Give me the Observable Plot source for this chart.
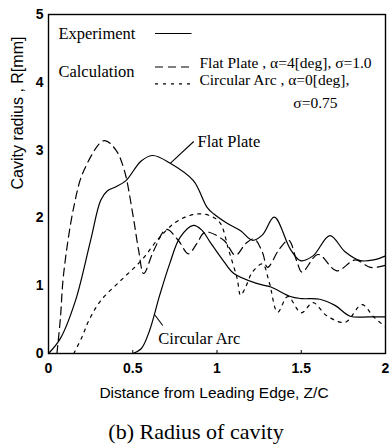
<!DOCTYPE html>
<html>
<head>
<meta charset="utf-8">
<script src="https://cdn.jsdelivr.net/npm/d3@7"></script>
<script src="https://cdn.jsdelivr.net/npm/@observablehq/plot@0.6"></script>
<style>
  html, body { margin: 0; padding: 0; background: #fff; }
  #chart { width: 390px; height: 445px; }
</style>
</head>
<body>
<div id="chart"></div>
<script>
// ---- Data ----
const expFlatX = [0, 0.07, 0.16, 0.25, 0.31, 0.35, 0.40, 0.46, 0.55, 0.62, 0.72, 0.86, 0.94, 0.98, 1.06, 1.14, 1.21, 1.27, 1.34, 1.435, 1.495, 1.57, 1.67, 1.76, 1.85, 1.93, 2.0];
const expFlatY = [0, 0.22, 0.78, 1.67, 2.26, 2.40, 2.46, 2.55, 2.84, 2.92, 2.81, 2.55, 2.16, 2.06, 1.92, 1.81, 1.67, 1.75, 2.01, 1.54, 1.37, 1.44, 1.74, 1.50, 1.37, 1.38, 1.44];

const expArcX = [0.50, 0.55, 0.60, 0.66, 0.72, 0.78, 0.86, 0.91, 0.96, 1.04, 1.10, 1.24, 1.32, 1.435, 1.50, 1.61, 1.70, 1.79, 1.90, 2.0];
const expArcY = [0, 0.07, 0.34, 0.86, 1.33, 1.71, 1.89, 1.82, 1.64, 1.36, 1.18, 1.03, 0.98, 0.84, 0.81, 0.80, 0.71, 0.55, 0.54, 0.54];

const calcFlatX = [0.05, 0.07, 0.09, 0.15, 0.21, 0.33, 0.40, 0.45, 0.50, 0.535, 0.565, 0.625, 0.70, 0.77, 0.83, 0.88, 0.93, 1.04, 1.11, 1.17, 1.22, 1.27, 1.30, 1.37, 1.425, 1.475, 1.505, 1.60, 1.71, 1.82, 1.91, 2.0];
const calcFlatY = [0, 0.5, 1.18, 2.16, 2.70, 3.14, 3.0, 2.70, 2.06, 1.52, 1.18, 1.52, 1.83, 1.67, 1.47, 1.62, 1.79, 1.67, 1.45, 1.62, 1.69, 1.49, 1.27, 1.54, 1.67, 1.35, 1.20, 1.46, 1.22, 1.38, 1.27, 1.30];

const calcArcX = [0.15, 0.20, 0.24, 0.31, 0.43, 0.55, 0.645, 0.74, 0.82, 0.90, 0.97, 1.02, 1.07, 1.12, 1.14, 1.17, 1.21, 1.27, 1.31, 1.36, 1.42, 1.50, 1.57, 1.65, 1.76, 1.86, 1.93, 2.0];
const calcArcY = [0, 0.25, 0.49, 0.78, 1.08, 1.37, 1.67, 1.91, 2.02, 2.06, 2.02, 1.92, 1.52, 1.10, 0.86, 0.98, 1.20, 1.32, 1.05, 0.61, 0.84, 0.60, 0.75, 0.56, 0.46, 0.72, 0.54, 0.39];

const xTicks = [0, 0.5, 1, 1.5, 2];
const xTickLabels = ["0", "0.5", "1", "1.5", "2"];
const yTicks = [0, 1, 2, 3, 4, 5];
const yTickLabels = ["0", "1", "2", "3", "4", "5"];

const xTitle = "Distance from Leading Edge, Z/C";
const yTitle = "Cavity radius , R[mm]";
const caption = "(b) Radius of cavity";

const legendHeads = ["Experiment", "Calculation"];
const legendItems = ["Flat Plate , α=4[deg], σ=1.0", "Circular Arc , α=0[deg],", "σ=0.75"];
const curveLabels = ["Flat Plate", "Circular Arc"];

// ---- Layout (annotation placement, in data units) ----
const headPos = [{x: 0.059, y: 4.646}, {x: 0.059, y: 4.071}];
const itemPos = [{x: 0.896, y: 4.204}, {x: 0.896, y: 3.953}, {x: 1.453, y: 3.628}];
const legendLines = [
  {x1: 0.635, x2: 0.852, y: 4.72, dash: null},
  {x1: 0.635, x2: 0.860, y: 4.226, dash: "8,5"},
  {x1: 0.635, x2: 0.860, y: 3.978, dash: "3,5"}
];
const labelPos = [{x: 0.884, y: 3.053}, {x: 0.652, y: 0.147}];
const leaders = [
  {x1: 0.724, y1: 2.807, x2: 0.862, y2: 3.127},
  {x1: 0.629, y1: 0.575, x2: 0.678, y2: 0.413}
];

const toRows = (xs, ys) => xs.map((x, i) => ({x, y: ys[i]}));
const serif = "'Liberation Serif', 'Times New Roman', serif";
const sans = "'Liberation Sans', Arial, sans-serif";

const chart = Plot.plot({
  width: 390,
  height: 445,
  marginLeft: 48,
  marginRight: 5,
  marginTop: 14,
  marginBottom: 92,
  x: {domain: [0, 2]},
  y: {domain: [0, 5]},
  style: {fontFamily: sans, background: "#fff", color: "#000"},
  marks: [
    Plot.axisX({ticks: xTicks, tickSize: 0, tickPadding: 10, fontSize: 14, fontWeight: "bold",
      tickFormat: d => xTickLabels[xTicks.indexOf(d)], label: null}),
    Plot.axisY({ticks: yTicks, tickSize: 0, tickPadding: 5, fontSize: 14, fontWeight: "bold",
      tickFormat: d => yTickLabels[yTicks.indexOf(d)], label: null}),
    Plot.tickX(xTicks.slice(1, -1), {x: d => d, insetTop: 336, stroke: "#000", strokeWidth: 1}),
    Plot.frame({stroke: "#000", strokeWidth: 1.4}),

    Plot.line(toRows(expFlatX, expFlatY), {x: "x", y: "y", curve: "catmull-rom", stroke: "#000", strokeWidth: 1.2}),
    Plot.line(toRows(expArcX, expArcY), {x: "x", y: "y", curve: "catmull-rom", stroke: "#000", strokeWidth: 1.2}),
    Plot.line(toRows(calcFlatX, calcFlatY), {x: "x", y: "y", curve: "catmull-rom", stroke: "#000", strokeWidth: 1.2, strokeDasharray: "8,5"}),
    Plot.line(toRows(calcArcX, calcArcY), {x: "x", y: "y", curve: "catmull-rom", stroke: "#000", strokeWidth: 1.2, strokeDasharray: "3,5"}),

    // legend
    ...legendLines.map(l => Plot.ruleY([l.y], {x1: l.x1, x2: l.x2, stroke: "#000", strokeWidth: 1.2, strokeDasharray: l.dash})),
    Plot.text(legendHeads, {x: (d, i) => headPos[i].x, y: (d, i) => headPos[i].y, text: d => d,
      textAnchor: "start", lineAnchor: "bottom", fontFamily: serif, fontSize: 16.5, fill: "#000"}),
    Plot.text(legendItems, {x: (d, i) => itemPos[i].x, y: (d, i) => itemPos[i].y, text: d => d,
      textAnchor: "start", lineAnchor: "bottom", fontFamily: serif, fontSize: 15.5, fill: "#000"}),

    // curve annotations
    Plot.link(leaders, {x1: "x1", y1: "y1", x2: "x2", y2: "y2", stroke: "#000", strokeWidth: 1.1}),
    Plot.text(curveLabels, {x: (d, i) => labelPos[i].x, y: (d, i) => labelPos[i].y, text: d => d,
      textAnchor: "start", lineAnchor: "bottom", fontFamily: serif, fontSize: 16.5, fill: "#000"}),

    // axis titles and caption
    Plot.text([xTitle], {frameAnchor: "bottom", dx: -3, dy: 44, text: d => d, lineAnchor: "bottom",
      fontFamily: sans, fontSize: 15.5, fill: "#000"}),
    Plot.text([yTitle], {frameAnchor: "left", dx: -31, dy: 5.5, rotate: -90, text: d => d, lineAnchor: "middle",
      fontFamily: sans, fontSize: 16, fill: "#000"}),
    Plot.text([caption], {frameAnchor: "bottom", dx: -21, dy: 85, text: d => d, lineAnchor: "bottom",
      fontFamily: serif, fontSize: 22, fill: "#000"})
  ]
});
document.getElementById("chart").appendChild(chart);
</script>
</body>
</html>
